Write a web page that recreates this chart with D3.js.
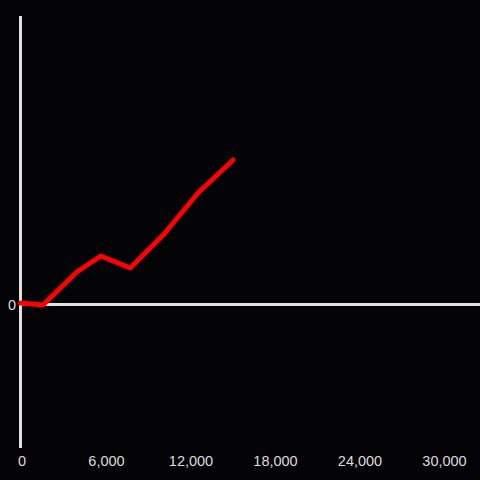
<!DOCTYPE html>
<html>
<head>
<meta charset="utf-8">
<script src="https://cdn.jsdelivr.net/npm/d3@7"></script>
<style>
  html, body { margin: 0; padding: 0; background: #040306; }
  svg { display: block; }
</style>
</head>
<body>
<div id="chart"></div>
<script>
// data
var xValues = [0, 1600, 4000, 5700, 7800, 10200, 12600, 15100]
var yValues = [10, -10, 320, 480, 360, 700, 1110, 1440]
var xTicks = [0, 6000, 12000, 18000, 24000, 30000]
var yTicks = [0]

const width = 480
const height = 480

// plot area
const padLeft = 20.5
const padTop = 16
const padBottom = 448

var xScale = d3.scaleLinear().domain([0, 6000]).range([padLeft, padLeft + 84.5])
var yScale = d3.scaleLinear().domain([-1440, 2880]).range([padBottom, padTop])

var svg = d3.select("#chart").append("svg")
  .attr("width", width)
  .attr("height", height)

svg.append("rect")
  .attr("width", width)
  .attr("height", height)
  .attr("fill", "#040306")

// vertical axis line
svg.append("line")
  .attr("x1", xScale(0)).attr("x2", xScale(0))
  .attr("y1", padTop).attr("y2", padBottom)
  .attr("stroke", "#e0e0e0")
  .attr("stroke-width", 3)

// zero line
svg.append("line")
  .attr("x1", xScale(0) - 1.5).attr("x2", width)
  .attr("y1", yScale(0) + 0.5).attr("y2", yScale(0) + 0.5)
  .attr("stroke", "#e0e0e0")
  .attr("stroke-width", 3)

var fmt = d3.format(",")

svg.append("g").selectAll("text")
  .data(xTicks)
  .enter()
  .append("text")
  .attr("x", function(d) { return xScale(d) + 1.5 })
  .attr("y", 466)
  .attr("text-anchor", "middle")
  .attr("fill", "#dcdcdc")
  .style("font-family", "'Liberation Sans', Arial, sans-serif")
  .style("font-size", "14.5px")
  .text(function(d) { return fmt(d) })

svg.append("g").selectAll("text")
  .data(yTicks)
  .enter()
  .append("text")
  .attr("x", 16)
  .attr("y", function(d) { return yScale(d) + 5.5 })
  .attr("text-anchor", "end")
  .attr("fill", "#dcdcdc")
  .style("font-family", "'Liberation Sans', Arial, sans-serif")
  .style("font-size", "14.5px")
  .text(function(d) { return fmt(d) })

var points = xValues.map(function(x, i) { return [x, yValues[i]] })

var line = d3.line()
  .x(function(d) { return xScale(d[0]) })
  .y(function(d) { return yScale(d[1]) })

svg.append("path")
  .datum(points)
  .attr("d", line)
  .attr("fill", "none")
  .attr("stroke", "#ff0000")
  .attr("stroke-width", 5)
  .attr("stroke-linejoin", "round")
  .attr("stroke-linecap", "round")
</script>
</body>
</html>
